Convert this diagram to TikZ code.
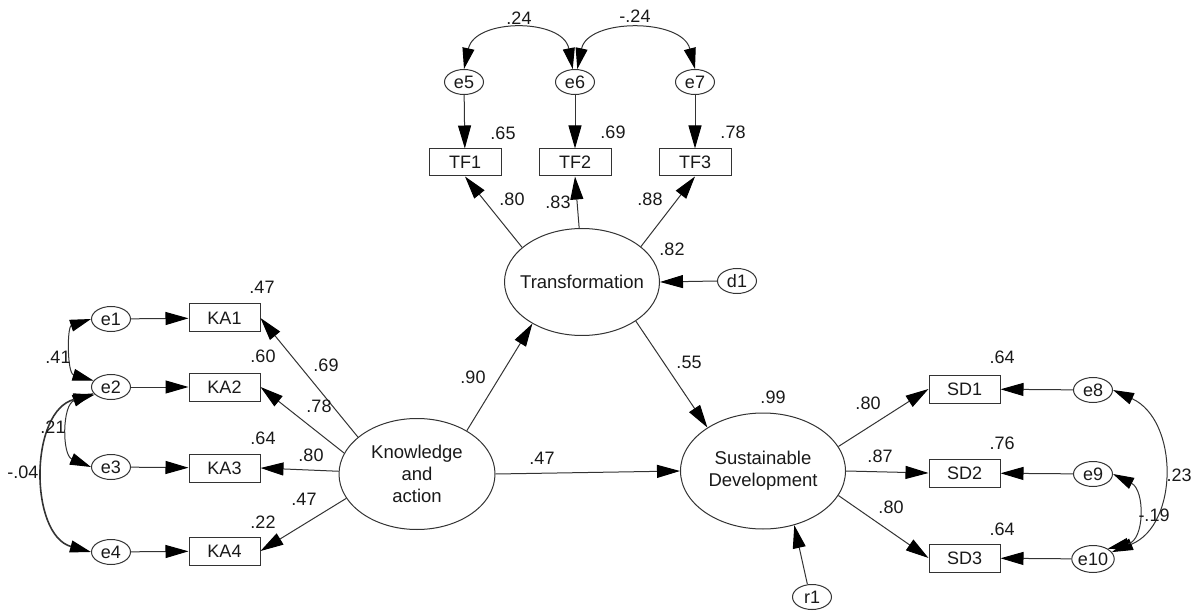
\documentclass[tikz,border=0pt]{standalone}
\usepackage{fontspec}
\setmainfont{Liberation Sans}
\usetikzlibrary{arrows.meta,shapes.geometric}
\begin{document}
\begin{tikzpicture}[x=1pt,y=-1pt,
  every node/.style={font=\fontsize{18}{22}\selectfont, text=black!90},
  big/.style={font=\fontsize{18.5}{22}\selectfont},
  lat/.style={draw=black!80, line width=1pt, ellipse, inner sep=0pt},
  err/.style={draw=black!80, line width=1pt, ellipse, minimum width=39pt, minimum height=25pt, inner sep=0pt},
  obs/.style={draw=black!80, line width=1pt, rectangle, minimum width=71pt, minimum height=28pt, inner sep=0pt},
  lbl/.style={inner sep=0pt},
  reg/.style={draw=black!80, line width=1pt, -{Triangle[length=23pt,width=13pt,color=black]}},
  cov/.style={draw=black!80, line width=1pt, {Triangle[length=21pt,width=12pt,color=black]}-{Triangle[length=21pt,width=12pt,color=black]}}]
\useasboundingbox (0,0) rectangle (1197,612);

% latent variables
\node[lat, minimum width=156pt, minimum height=111pt, label={[align=center,big]center:Knowledge\\and\\action}] (ka) at (417,474) {};
\node[lat, minimum width=155pt, minimum height=107pt, label={[big]center:Transformation}] (tf) at (582,282) {};
\node[lat, minimum width=165pt, minimum height=116pt, label={[align=center,big]center:Sustainable\\Development}] (sd) at (763,471) {};

% observed KA
\node[obs] (KA1) at (224.5,318) {KA1};
\node[obs] (KA2) at (224.5,387) {KA2};
\node[obs] (KA3) at (224.5,468) {KA3};
\node[obs] (KA4) at (224.5,551) {KA4};
\node[err] (e1) at (111,319) {e1};
\node[err] (e2) at (111,387) {e2};
\node[err] (e3) at (111,467) {e3};
\node[err] (e4) at (111,552) {e4};

% observed TF
\node[obs, minimum width=72pt, minimum height=27pt] (TF1) at (465,162.5) {TF1};
\node[obs, minimum width=72pt, minimum height=27pt] (TF2) at (575,162.5) {TF2};
\node[obs, minimum width=72pt, minimum height=27pt] (TF3) at (695,162.5) {TF3};
\node[err] (e5) at (464,82) {e5};
\node[err] (e6) at (575,82) {e6};
\node[err] (e7) at (695,82) {e7};

% observed SD
\node[obs] (SD1) at (964.5,389) {SD1};
\node[obs] (SD2) at (964.5,473) {SD2};
\node[obs] (SD3) at (964.5,558) {SD3};
\node[err] (e8) at (1093,390) {e8};
\node[err] (e9) at (1093,474) {e9};
\node[err, minimum height=27pt] (e10) at (1093,559) {e10};

% disturbances
\node[err] (d1) at (737,281) {d1};
\node[err] (r1) at (812,597) {r1};

% regression paths
\draw[reg] (ka.148) -- (KA1.east);
\draw[reg] (ka.164) -- (KA2.east);
\draw[reg] (ka.178) -- (KA3.east);
\draw[reg] (ka.199) -- (KA4.east);
\draw[reg] (e1) -- (KA1);
\draw[reg] (e2) -- (KA2);
\draw[reg] (e3) -- (KA3);
\draw[reg] (e4) -- (KA4);

\draw[reg] (tf.150) -- (TF1.south);
\draw[reg] (tf.93) -- (TF2.south);
\draw[reg] (tf.31) -- (TF3.south);
\draw[reg] (e5) -- (TF1);
\draw[reg] (e6) -- (TF2);
\draw[reg] (e7) -- (TF3);

\draw[reg] (ka.41) -- (tf.220);
\draw[reg] (ka.east) -- (sd.west);
\draw[reg] (tf.324) -- (sd.142);
\draw[reg] (d1.west) -- (tf.east);
\draw[reg] (r1.110) -- (sd.300);

\draw[reg] (sd.18) -- (SD1.west);
\draw[reg] (sd.east) -- (SD2.west);
\draw[reg] (sd.342) -- (SD3.west);
\draw[reg] (e8) -- (SD1);
\draw[reg] (e9) -- (SD2);
\draw[reg] (e10) -- (SD3);

% covariances
\draw[cov] (e1.west) .. controls (67,327) and (67,373) .. (e2.160);
\draw[cov] (e2.200) .. controls (62,405) and (62,455) .. (e3.west);
\draw[cov, line width=1.6pt] (e2.205) .. controls (29,410) and (29,535) .. (e4.west);
\draw[cov] (e5.north) .. controls (475,18) and (563,18) .. (e6.100);
\draw[cov] (e6.80) .. controls (588,18) and (682,18) .. (e7.north);
\draw[cov] (e8.east) .. controls (1179,420) and (1179,525) .. (e10.20);
\draw[cov] (e9.east) .. controls (1145,490) and (1145,540) .. (e10.35);

% coefficient labels
\node[lbl] (l1) at (262,287) {.47};
\node[lbl] (l2) at (263,356) {.60};
\node[lbl] (l3) at (263,438) {.64};
\node[lbl] (l4) at (263,522) {.22};
\node[lbl] (l5) at (326,365) {.69};
\node[lbl] (l6) at (319,406) {.78};
\node[lbl] (l7) at (311,455) {.80};
\node[lbl] (l8) at (304,499) {.47};
\node[lbl] (l9) at (473,377) {.90};
\node[lbl] (l10) at (542,458) {.47};
\node[lbl] (l11) at (689,362) {.55};
\node[lbl] (l12) at (773,397) {.99};
\node[lbl] (l13) at (672,249) {.82};
\node[lbl] (l14) at (512,199) {.80};
\node[lbl] (l15) at (558,202) {.83};
\node[lbl] (l16) at (650,199) {.88};
\node[lbl] (l17) at (503,133) {.65};
\node[lbl] (l18) at (613,132) {.69};
\node[lbl] (l19) at (733,132) {.78};
\node[lbl] (l20) at (519,18) {.24};
\node[lbl] (l21) at (635,16) {-.24};
\node[lbl] (l22) at (1002,357) {.64};
\node[lbl] (l23) at (1002,443) {.76};
\node[lbl] (l24) at (1002,529) {.64};
\node[lbl] (l25) at (868,403) {.80};
\node[lbl] (l26) at (880,456) {.87};
\node[lbl] (l27) at (891,507) {.80};
\node[lbl] (l28) at (1179,475) {.23};
\node[lbl] (l29) at (1154,515) {-.19};
\node[lbl] (l30) at (58,357) {.41};
\node[lbl] (l31) at (53,427) {.21};
\node[lbl] (l32) at (23,472) {-.04};
\end{tikzpicture}
\end{document}
